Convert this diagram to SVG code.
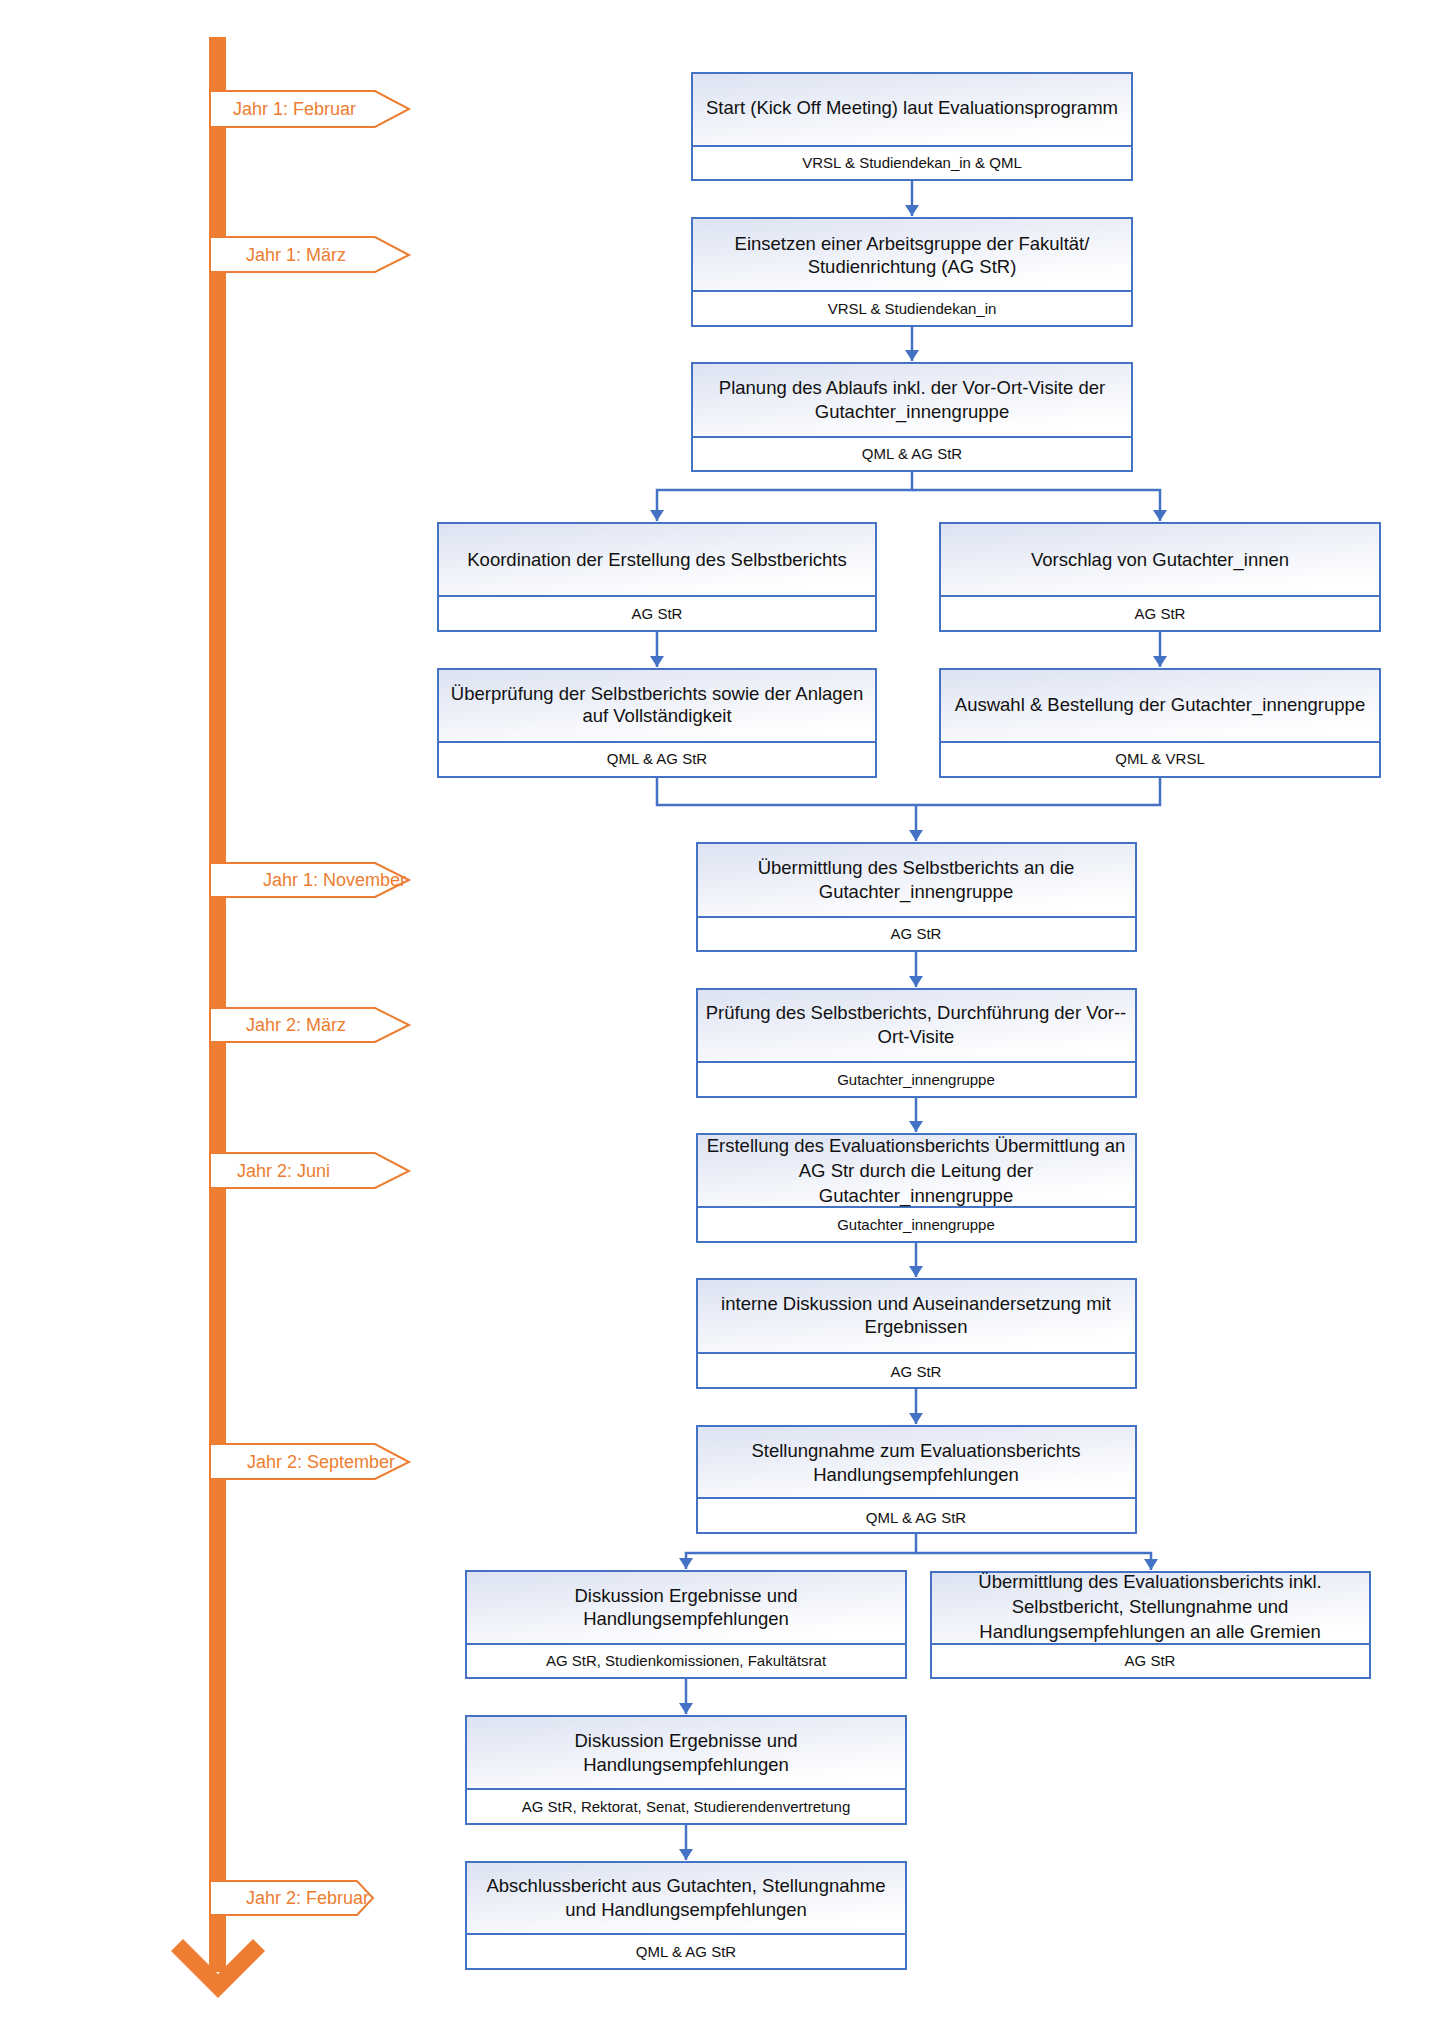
<svg xmlns="http://www.w3.org/2000/svg" width="1440" height="2037" viewBox="0 0 1440 2037">
<defs>
<linearGradient id="g" x1="0" y1="0" x2="0.55" y2="1">
<stop offset="0" stop-color="#DCE2F2"/>
<stop offset="1" stop-color="#FFFFFF"/>
</linearGradient>
<marker id="arr" markerWidth="12" markerHeight="14" refX="11" refY="7" orient="auto" markerUnits="userSpaceOnUse">
<path d="M0,0 L11,7 L0,14 z" fill="#4472C4"/>
</marker>
</defs>
<style>
.top{fill:url(#g);stroke:#4472C4;stroke-width:2}
.bot{fill:#FFFFFF;stroke:#4472C4;stroke-width:2}
.t{font-family:"Liberation Sans",Arial,sans-serif;font-size:18.5px;fill:#111;text-anchor:middle}
.s{font-family:"Liberation Sans",Arial,sans-serif;font-size:15px;fill:#111;text-anchor:middle}
.lbl{fill:#FFFFFF;stroke:#ED7D31;stroke-width:2}
.lt{font-family:"Liberation Sans",Arial,sans-serif;font-size:18px;fill:#ED7D31}
.c{fill:none;stroke:#4472C4;stroke-width:2.5}
</style>
<rect x="0" y="0" width="1440" height="2037" fill="#FFFFFF"/>

<g id="timeline">
<rect x="209" y="37" width="17" height="1935" fill="#ED7D31"/>
<polygon points="171,1951 218,1998 265,1951 253,1939 218,1974 183,1939" fill="#ED7D31"/>
</g>

<g id="label-j1-feb"><polygon class="lbl" points="210,91 375,91 409,109 375,127 210,127"/><text class="lt" x="233" y="115">Jahr 1: Februar</text></g>
<g id="label-j1-maerz"><polygon class="lbl" points="210,237 375,237 409,255 375,272 210,272"/><text class="lt" x="246" y="261">Jahr 1: März</text></g>
<g id="label-j1-nov"><polygon class="lbl" points="210,863 375,863 409,880 375,897 210,897"/><text class="lt" x="263" y="886">Jahr 1: November</text></g>
<g id="label-j2-maerz"><polygon class="lbl" points="210,1008 375,1008 409,1025 375,1042 210,1042"/><text class="lt" x="246" y="1031">Jahr 2: März</text></g>
<g id="label-j2-juni"><polygon class="lbl" points="210,1153 375,1153 409,1171 375,1188 210,1188"/><text class="lt" x="237" y="1177">Jahr 2: Juni</text></g>
<g id="label-j2-sep"><polygon class="lbl" points="210,1444 375,1444 409,1462 375,1479 210,1479"/><text class="lt" x="247" y="1468">Jahr 2: September</text></g>
<g id="label-j2-feb"><polygon class="lbl" points="210,1881 357,1881 373,1898 357,1915 210,1915"/><text class="lt" x="246" y="1904">Jahr 2: Februar</text></g>

<g id="connectors">
<path class="c" d="M912,180 V216" marker-end="url(#arr)"/>
<path class="c" d="M912,326 V361" marker-end="url(#arr)"/>
<path class="c" d="M912,471 V490 H657 V521" marker-end="url(#arr)"/>
<path class="c" d="M912,490 H1160 V521" marker-end="url(#arr)"/>
<path class="c" d="M657,631 V667" marker-end="url(#arr)"/>
<path class="c" d="M1160,631 V667" marker-end="url(#arr)"/>
<path class="c" d="M657,777 V805 H1160 V777"/>
<path class="c" d="M916,805 V841" marker-end="url(#arr)"/>
<path class="c" d="M916,951 V987" marker-end="url(#arr)"/>
<path class="c" d="M916,1097 V1132" marker-end="url(#arr)"/>
<path class="c" d="M916,1242 V1277" marker-end="url(#arr)"/>
<path class="c" d="M916,1388 V1424" marker-end="url(#arr)"/>
<path class="c" d="M916,1533 V1553 H686 V1569" marker-end="url(#arr)"/>
<path class="c" d="M916,1553 H1151 V1570" marker-end="url(#arr)"/>
<path class="c" d="M686,1678 V1714" marker-end="url(#arr)"/>
<path class="c" d="M686,1824 V1860" marker-end="url(#arr)"/>
</g>

<g id="n1"><rect class="top" x="692" y="73" width="440" height="73"/><rect class="bot" x="692" y="146" width="440" height="34"/>
<text class="t" x="912" y="114">Start (Kick Off Meeting) laut Evaluationsprogramm</text>
<text class="s" x="912" y="168">VRSL &amp; Studiendekan_in &amp; QML</text></g>

<g id="n2"><rect class="top" x="692" y="218" width="440" height="73"/><rect class="bot" x="692" y="291" width="440" height="35"/>
<text class="t" x="912" y="250">Einsetzen einer Arbeitsgruppe der Fakultät/</text>
<text class="t" x="912" y="273">Studienrichtung (AG StR)</text>
<text class="s" x="912" y="314">VRSL &amp; Studiendekan_in</text></g>

<g id="n3"><rect class="top" x="692" y="363" width="440" height="74"/><rect class="bot" x="692" y="437" width="440" height="34"/>
<text class="t" x="912" y="394">Planung des Ablaufs inkl. der Vor-Ort-Visite der</text>
<text class="t" x="912" y="418">Gutachter_innengruppe</text>
<text class="s" x="912" y="459">QML &amp; AG StR</text></g>

<g id="n4l"><rect class="top" x="438" y="523" width="438" height="73"/><rect class="bot" x="438" y="596" width="438" height="35"/>
<text class="t" x="657" y="566">Koordination der Erstellung des Selbstberichts</text>
<text class="s" x="657" y="619">AG StR</text></g>

<g id="n4r"><rect class="top" x="940" y="523" width="440" height="73"/><rect class="bot" x="940" y="596" width="440" height="35"/>
<text class="t" x="1160" y="566">Vorschlag von Gutachter_innen</text>
<text class="s" x="1160" y="619">AG StR</text></g>

<g id="n5l"><rect class="top" x="438" y="669" width="438" height="73"/><rect class="bot" x="438" y="742" width="438" height="35"/>
<text class="t" x="657" y="700">Überprüfung der Selbstberichts sowie der Anlagen</text>
<text class="t" x="657" y="722">auf Vollständigkeit</text>
<text class="s" x="657" y="764">QML &amp; AG StR</text></g>

<g id="n5r"><rect class="top" x="940" y="669" width="440" height="73"/><rect class="bot" x="940" y="742" width="440" height="35"/>
<text class="t" x="1160" y="711">Auswahl &amp; Bestellung der Gutachter_innengruppe</text>
<text class="s" x="1160" y="764">QML &amp; VRSL</text></g>

<g id="n6"><rect class="top" x="697" y="843" width="439" height="74"/><rect class="bot" x="697" y="917" width="439" height="34"/>
<text class="t" x="916" y="874">Übermittlung des Selbstberichts an die</text>
<text class="t" x="916" y="898">Gutachter_innengruppe</text>
<text class="s" x="916" y="939">AG StR</text></g>

<g id="n7"><rect class="top" x="697" y="989" width="439" height="73"/><rect class="bot" x="697" y="1062" width="439" height="35"/>
<text class="t" x="916" y="1019">Prüfung des Selbstberichts, Durchführung der Vor--</text>
<text class="t" x="916" y="1043">Ort-Visite</text>
<text class="s" x="916" y="1085">Gutachter_innengruppe</text></g>

<g id="n8"><rect class="top" x="697" y="1134" width="439" height="73"/><rect class="bot" x="697" y="1207" width="439" height="35"/>
<text class="t" x="916" y="1152">Erstellung des Evaluationsberichts Übermittlung an</text>
<text class="t" x="916" y="1177">AG Str durch die Leitung der</text>
<text class="t" x="916" y="1202">Gutachter_innengruppe</text>
<text class="s" x="916" y="1230">Gutachter_innengruppe</text></g>

<g id="n9"><rect class="top" x="697" y="1279" width="439" height="74"/><rect class="bot" x="697" y="1353" width="439" height="35"/>
<text class="t" x="916" y="1310">interne Diskussion und Auseinandersetzung mit</text>
<text class="t" x="916" y="1333">Ergebnissen</text>
<text class="s" x="916" y="1377">AG StR</text></g>

<g id="n10"><rect class="top" x="697" y="1426" width="439" height="72"/><rect class="bot" x="697" y="1498" width="439" height="35"/>
<text class="t" x="916" y="1457">Stellungnahme zum Evaluationsberichts</text>
<text class="t" x="916" y="1481">Handlungsempfehlungen</text>
<text class="s" x="916" y="1523">QML &amp; AG StR</text></g>

<g id="n11l"><rect class="top" x="466" y="1571" width="440" height="73"/><rect class="bot" x="466" y="1644" width="440" height="34"/>
<text class="t" x="686" y="1602">Diskussion Ergebnisse und</text>
<text class="t" x="686" y="1625">Handlungsempfehlungen</text>
<text class="s" x="686" y="1666">AG StR, Studienkomissionen, Fakultätsrat</text></g>

<g id="n11r"><rect class="top" x="931" y="1572" width="439" height="72"/><rect class="bot" x="931" y="1644" width="439" height="34"/>
<text class="t" x="1150" y="1588">Übermittlung des Evaluationsberichts inkl.</text>
<text class="t" x="1150" y="1613">Selbstbericht, Stellungnahme und</text>
<text class="t" x="1150" y="1638">Handlungsempfehlungen an alle Gremien</text>
<text class="s" x="1150" y="1666">AG StR</text></g>

<g id="n12"><rect class="top" x="466" y="1716" width="440" height="73"/><rect class="bot" x="466" y="1789" width="440" height="35"/>
<text class="t" x="686" y="1747">Diskussion Ergebnisse und</text>
<text class="t" x="686" y="1771">Handlungsempfehlungen</text>
<text class="s" x="686" y="1812">AG StR, Rektorat, Senat, Studierendenvertretung</text></g>

<g id="n13"><rect class="top" x="466" y="1862" width="440" height="72"/><rect class="bot" x="466" y="1934" width="440" height="35"/>
<text class="t" x="686" y="1892">Abschlussbericht aus Gutachten, Stellungnahme</text>
<text class="t" x="686" y="1916">und Handlungsempfehlungen</text>
<text class="s" x="686" y="1957">QML &amp; AG StR</text></g>
</svg>
